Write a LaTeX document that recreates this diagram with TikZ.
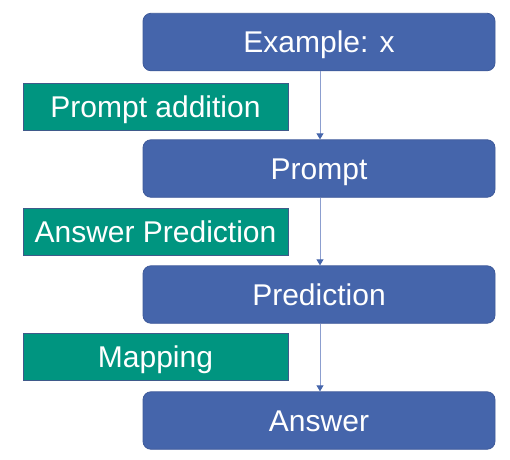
\documentclass[tikz,border=0pt]{standalone}
\usepackage{fontspec}
\setmainfont{Liberation Sans}
\usetikzlibrary{arrows.meta}
\definecolor{bluebox}{HTML}{4565AB}
\definecolor{blueedge}{HTML}{3E5A9A}
\definecolor{greenbox}{HTML}{009580}
\definecolor{greenedge}{HTML}{3F5A8A}
\definecolor{arrowline}{HTML}{8C9ECF}
\tikzset{
  bluenode/.style={draw=blueedge, line width=0.8pt, fill=bluebox, rounded corners=8pt,
    minimum width=352pt, minimum height=57.5pt, inner sep=0pt, text=white,
    text height=21.5pt, text depth=0pt,
    font=\fontsize{30}{32}\selectfont},
  greennode/.style={draw=greenedge, line width=0.8pt, fill=greenbox,
    minimum width=265pt, minimum height=47pt, inner sep=0pt, text=white,
    text height=21.5pt, text depth=0pt,
    font=\fontsize{30}{32}\selectfont},
  flow/.style={draw=arrowline, line width=0.9pt,
    -{Triangle[width=7pt,length=6pt,color=bluebox]}}
}
\begin{document}
\begin{tikzpicture}[x=1pt,y=-1pt]
\useasboundingbox (0,0) rectangle (510,459);
\node[bluenode] (ex) at (319,42) {Example: x};
\node[bluenode] (pr) at (319,168.5) {Prompt};
\node[bluenode] (pd) at (319,294.5) {Prediction};
\node[bluenode] (an) at (319,420.5) {Answer};
\node[greennode] (g1) at (155.5,107) {Prompt addition};
\node[greennode] (g2) at (155.5,232) {Answer Prediction};
\node[greennode] (g3) at (155.5,357) {Mapping};
\draw[flow] ([xshift=1pt]ex.south) -- ([xshift=1pt]pr.north);
\draw[flow] ([xshift=1pt]pr.south) -- ([xshift=1pt]pd.north);
\draw[flow] ([xshift=1pt]pd.south) -- ([xshift=1pt]an.north);
\end{tikzpicture}
\end{document}
